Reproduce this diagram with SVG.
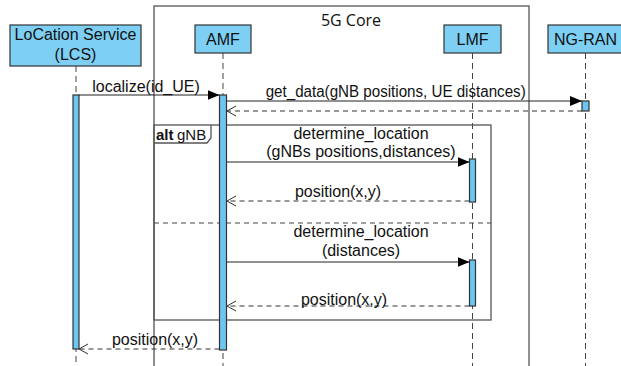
<svg xmlns="http://www.w3.org/2000/svg" width="621" height="366" viewBox="0 0 621 366">
<defs>
<style>
.box{fill:#7dcff3;stroke:#333;stroke-width:1.2}
.bar{fill:#6cc6ef;stroke:#333;stroke-width:1.2}
.life{stroke:#444;stroke-width:1;stroke-dasharray:6 4;fill:none}
.frame{fill:none;stroke:#555;stroke-width:1.3}
.msg{stroke:#222;stroke-width:1;fill:none}
.ret{stroke:#333;stroke-width:1;stroke-dasharray:5 4;fill:none}
text{font-family:"Liberation Sans",Arial,sans-serif;font-size:16px;fill:#111}
.c{text-anchor:middle}
</style>
<marker id="fill" markerWidth="12" markerHeight="10" refX="12" refY="5" orient="auto" markerUnits="userSpaceOnUse">
<path d="M0,0 L12,5 L0,10 Z" fill="#000"/>
</marker>
<marker id="open" markerWidth="11" markerHeight="12" refX="9.5" refY="6" orient="auto" markerUnits="userSpaceOnUse">
<path d="M0.5,1 L9.5,6 L0.5,11" fill="none" stroke="#333" stroke-width="1"/>
</marker>
</defs>
<rect width="621" height="366" fill="#fff"/>

<g id="core">
<rect class="frame" x="154" y="6" width="375" height="370"/>
<text class="c" x="351" y="26" style="font-family:'Open Sans','Noto Sans',sans-serif;font-size:16px">5G Core</text>
</g>

<g id="lifelines">
<line class="life" x1="76" y1="66" x2="76" y2="366"/>
<line class="life" x1="223" y1="53" x2="223" y2="366"/>
<line class="life" x1="472.5" y1="53" x2="472.5" y2="366"/>
<line class="life" x1="585.5" y1="53" x2="585.5" y2="366"/>
</g>

<g id="alt">
<rect class="frame" x="154" y="125" width="337" height="195"/>
<path class="frame" d="M154,143 L207,143 L211,138 L211,125"/>
<line x1="154" y1="223" x2="491" y2="223" stroke="#444" stroke-width="1" stroke-dasharray="5 4"/>
<text x="156" y="140" style="font-size:15px;font-weight:bold">alt</text>
<text x="177" y="140" style="font-size:15px">gNB</text>
</g>

<g id="lcs">
<rect class="box" x="10" y="25" width="131" height="41"/>
<text class="c" x="75.5" y="40">LoCation Service</text>
<text class="c" x="75.5" y="60">(LCS)</text>
<rect class="bar" x="73" y="95" width="6" height="254"/>
</g>

<g id="amf">
<rect class="box" x="195" y="25" width="56" height="28"/>
<text class="c" x="223" y="45">AMF</text>
<rect class="bar" x="219.5" y="95" width="7" height="255"/>
</g>

<g id="lmf">
<rect class="box" x="444" y="25" width="57" height="28"/>
<text class="c" x="472.5" y="45">LMF</text>
<rect class="bar" x="469.5" y="159" width="6" height="43"/>
<rect class="bar" x="469.5" y="260" width="6" height="46"/>
</g>

<g id="ngran">
<rect class="box" x="548" y="25" width="76" height="28"/>
<text class="c" x="585.5" y="45">NG-RAN</text>
<rect class="bar" x="582" y="101" width="7" height="10"/>
</g>

<g id="connectors">
<line class="msg" x1="79" y1="95" x2="219.5" y2="95" marker-end="url(#fill)"/>
<text class="c" x="146" y="92">localize(id_UE)</text>

<line class="msg" x1="226.5" y1="101" x2="582" y2="101" marker-end="url(#fill)"/>
<text x="265.7" y="97" textLength="260" lengthAdjust="spacingAndGlyphs">get_data(gNB positions, UE distances)</text>

<line class="ret" x1="582" y1="111" x2="227" y2="111" marker-end="url(#open)"/>

<line class="msg" x1="226.5" y1="162" x2="469.5" y2="162" marker-end="url(#fill)"/>
<text class="c" x="361" y="139">determine_location</text>
<text class="c" x="361" y="157">(gNBs positions,distances)</text>

<line class="ret" x1="469.5" y1="201" x2="227" y2="201" marker-end="url(#open)"/>
<text class="c" x="338" y="197">position(x,y)</text>

<line class="msg" x1="226.5" y1="262" x2="469.5" y2="262" marker-end="url(#fill)"/>
<text class="c" x="361" y="237">determine_location</text>
<text class="c" x="361" y="256">(distances)</text>

<line class="ret" x1="469.5" y1="306" x2="227" y2="306" marker-end="url(#open)"/>
<text class="c" x="344" y="305">position(x,y)</text>

<line class="ret" x1="219.5" y1="349" x2="79" y2="349" marker-end="url(#open)"/>
<text class="c" x="155" y="345">position(x,y)</text>
</g>
</svg>
